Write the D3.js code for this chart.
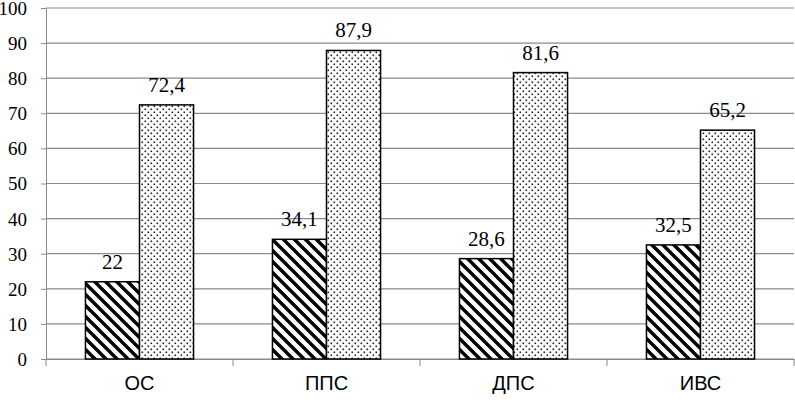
<!DOCTYPE html>
<html><head><meta charset="utf-8">
<script src="https://cdn.jsdelivr.net/npm/d3@7"></script>
</head><body>
<script>
const categories = ["ОС", "ППС", "ДПС", "ИВС"];
const seriesA = [22, 34.1, 28.6, 32.5];
const seriesB = [72.4, 87.9, 81.6, 65.2];
const yTicks = [0, 10, 20, 30, 40, 50, 60, 70, 80, 90, 100];

d3.select("body").style("margin", "0px");
const W = 795, H = 403;
const m = {left: 46, right: 1, top: 8, bottom: 44};
const svg = d3.select("body").append("svg").attr("width", W).attr("height", H).style("display", "block");
const defs = svg.append("defs");
const hatch = defs.append("pattern").attr("id", "hatch").attr("patternUnits", "userSpaceOnUse")
  .attr("width", 11).attr("height", 11);
hatch.append("rect").attr("width", 11).attr("height", 11).attr("fill", "#fff");
hatch.append("path").attr("d", "M-1,-1 L12,12 M-3,8 L3,14 M8,-3 L14,3")
  .attr("stroke", "#000").attr("stroke-width", 3.4);
const dots = defs.append("pattern").attr("id", "dots").attr("patternUnits", "userSpaceOnUse")
  .attr("width", 6).attr("height", 6);
dots.append("rect").attr("width", 6).attr("height", 6).attr("fill", "#fff");
dots.append("rect").attr("x", 0.5).attr("y", 0.5).attr("width", 1.6).attr("height", 1.6).attr("fill", "#222");
dots.append("rect").attr("x", 3.5).attr("y", 3.5).attr("width", 1.6).attr("height", 1.6).attr("fill", "#222");

const x = d3.scaleBand().domain(categories).range([m.left, W - m.right]).paddingInner(0).paddingOuter(0);
const y = d3.scaleLinear().domain([0, 100]).range([H - m.bottom, m.top]);
const barW = x.bandwidth() * 0.289;

svg.append("g").selectAll("line").data(yTicks).join("line")
  .attr("x1", m.left).attr("x2", W - m.right)
  .attr("y1", d => y(d)).attr("y2", d => y(d))
  .attr("stroke", "#8a8a8a").attr("stroke-width", 1.2);

const ya = svg.append("g").attr("transform", `translate(${m.left},0)`)
  .call(d3.axisLeft(y).tickValues(yTicks).tickSize(5).tickPadding(14));
ya.attr("font-family", null).attr("font-size", null);
ya.select(".domain").attr("stroke", "#8a8a8a");
ya.selectAll(".tick line").attr("stroke", "#8a8a8a");
ya.selectAll("text").attr("style", "font-family:'Liberation Serif';font-size:19px")
  .attr("fill", "#000").attr("dy", "0.34em");

const xa = svg.append("g").attr("transform", `translate(0,${y(0)})`)
  .call(d3.axisBottom(x).tickSize(0).tickPadding(17));
xa.attr("font-family", null).attr("font-size", null);
xa.select(".domain").attr("stroke", "#8a8a8a");
xa.selectAll("text").attr("style", "font-family:'Liberation Sans';font-size:20px").attr("fill", "#000");
svg.append("g").selectAll("line").data(categories).join("line")
  .attr("x1", d => x(d) + x.bandwidth()).attr("x2", d => x(d) + x.bandwidth())
  .attr("y1", y(0)).attr("y2", y(0) + 7).attr("stroke", "#8a8a8a");
svg.append("line").attr("x1", m.left).attr("x2", m.left).attr("y1", y(0)).attr("y2", y(0) + 7).attr("stroke", "#8a8a8a");

const cx = d => x(d) + x.bandwidth() / 2;
const fmt = v => String(v).replace(".", ",");
const g = svg.append("g");
g.selectAll("rect.a").data(categories).join("rect").attr("class", "a")
  .attr("x", d => cx(d) - barW).attr("width", barW)
  .attr("y", (d, i) => y(seriesA[i])).attr("height", (d, i) => y(0) - y(seriesA[i]))
  .attr("fill", "url(#hatch)").attr("stroke", "#000").attr("stroke-width", 1.5);
g.selectAll("rect.b").data(categories).join("rect").attr("class", "b")
  .attr("x", d => cx(d)).attr("width", barW)
  .attr("y", (d, i) => y(seriesB[i])).attr("height", (d, i) => y(0) - y(seriesB[i]))
  .attr("fill", "url(#dots)").attr("stroke", "#000").attr("stroke-width", 1.5);

const lab = svg.append("g");
lab.selectAll("text.a").data(categories).join("text").attr("class", "a")
  .attr("style", "font-family:'Liberation Serif';font-size:21px").attr("text-anchor", "middle")
  .attr("x", d => cx(d) - barW / 2).attr("y", (d, i) => y(seriesA[i]) - 13).text((d, i) => fmt(seriesA[i]));
lab.selectAll("text.b").data(categories).join("text").attr("class", "b")
  .attr("style", "font-family:'Liberation Serif';font-size:21px").attr("text-anchor", "middle")
  .attr("x", d => cx(d) + barW / 2).attr("y", (d, i) => y(seriesB[i]) - 13).text((d, i) => fmt(seriesB[i]));
</script>
</body></html>
